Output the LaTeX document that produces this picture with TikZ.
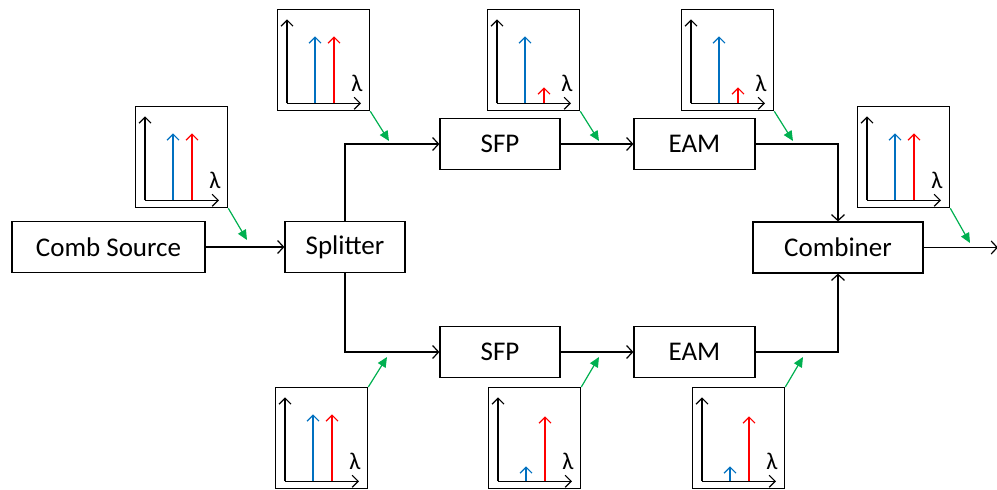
\documentclass[tikz,border=0pt]{standalone}
\usepackage{fontspec}
\setmainfont{Carlito}
\usetikzlibrary{arrows.meta, positioning, calc}
\definecolor{peakblue}{RGB}{0, 112, 192}
\definecolor{peakred}{RGB}{255, 0, 0}
\definecolor{hintgreen}{RGB}{0, 176, 80}

\tikzset{
  block/.style={draw, line width=1.2pt, minimum height=51pt, inner sep=0pt, font=\fontsize{27}{30}\selectfont},
  link/.style={line width=1.2pt, -{Straight Barb[length=6pt, width=13pt, line width=1.2pt]}},
  inset/.style={draw, line width=1.3pt, anchor=north west, minimum width=92pt, minimum height=101pt, inner sep=0pt},
  axis/.style={line width=1.2pt, -{Straight Barb[length=6pt, width=12pt, line width=1.2pt]}},
  peak/.style={line width=1.2pt, -{Straight Barb[length=6pt, width=12pt, line width=1.2pt]}},
  hint/.style={hintgreen, line width=1.2pt, -{Triangle[length=10pt, width=9pt]}}
}

% spectrum inset: name, corner x, corner y, blue height, red height
\newcommand{\spectrum}[5]{%
  \node[inset] (#1) at (#2,#3) {};
  \begin{scope}[shift={(#1.south west)}]
    \draw[axis] (10,-8) -- (10,-92);
    \draw[axis] (10,-8) -- (84,-8);
    \draw[peak, peakblue] (38,-8) -- (38,{-8-#4});
    \draw[peak, peakred] (57,-8) -- (57,{-8-#5});
    \node[font=\fontsize{24}{26}\selectfont] at (80,-28) {λ};
  \end{scope}}

\begin{document}
\begin{tikzpicture}[x=1pt, y=-1pt]
    \useasboundingbox (0,0) rectangle (997,490);

    % main chain
    \node[block, minimum width=193pt] (comb) at (108.5,247) {Comb Source};
    \node[block, minimum width=120pt] (split) at (345,247) {Splitter};
    \node[block, minimum width=120pt] (sfpA) at (500,144) {SFP};
    \node[block, minimum width=121pt] (eamA) at (694.5,144) {EAM};
    \node[block, minimum width=120pt] (sfpB) at (500,352) {SFP};
    \node[block, minimum width=121pt] (eamB) at (694.5,352) {EAM};
    \node[block, minimum width=170pt] (comb2) at (838,247.5) {Combiner};
    \coordinate (out) at (998,247.5);

    \draw[link] (comb.east) -- (split.west);
    \draw[link] (split.north) |- (sfpA.west);
    \draw[link] (split.south) |- (sfpB.west);
    \draw[link] (sfpA.east) -- (eamA.west);
    \draw[link] (sfpB.east) -- (eamB.west);
    \draw[link] (eamA.east) -| (comb2.north);
    \draw[link] (eamB.east) -| (comb2.south);
    \draw[link] (comb2.east) -- (out);

    % spectra
    \spectrum{specComb}{135}{106}{67}{67}
    \spectrum{specSplitA}{277}{9}{67}{67}
    \spectrum{specSfpA}{487}{9}{67}{16}
    \spectrum{specEamA}{681}{9}{67}{16}
    \spectrum{specOut}{857}{106}{67}{67}
    \spectrum{specSplitB}{275}{387}{67}{67}
    \spectrum{specSfpB}{488}{387}{15}{65}
    \spectrum{specEamB}{692}{387}{15}{65}

    % pointers to the lines
    \coordinate (pComb) at (247,240);
    \coordinate (pSplitA) at (389,141);
    \coordinate (pSfpA) at (599,141);
    \coordinate (pEamA) at (793,141);
    \coordinate (pOut) at (970,243);
    \coordinate (pSplitB) at (387,357);
    \coordinate (pSfpB) at (599,357);
    \coordinate (pEamB) at (803,357);

    \draw[hint] (specComb.south east) -- (pComb);
    \draw[hint] (specSplitA.south east) -- (pSplitA);
    \draw[hint] (specSfpA.south east) -- (pSfpA);
    \draw[hint] (specEamA.south east) -- (pEamA);
    \draw[hint] (specOut.south east) -- (pOut);
    \draw[hint] (specSplitB.north east) -- (pSplitB);
    \draw[hint] (specSfpB.north east) -- (pSfpB);
    \draw[hint] (specEamB.north east) -- (pEamB);
\end{tikzpicture}
\end{document}
